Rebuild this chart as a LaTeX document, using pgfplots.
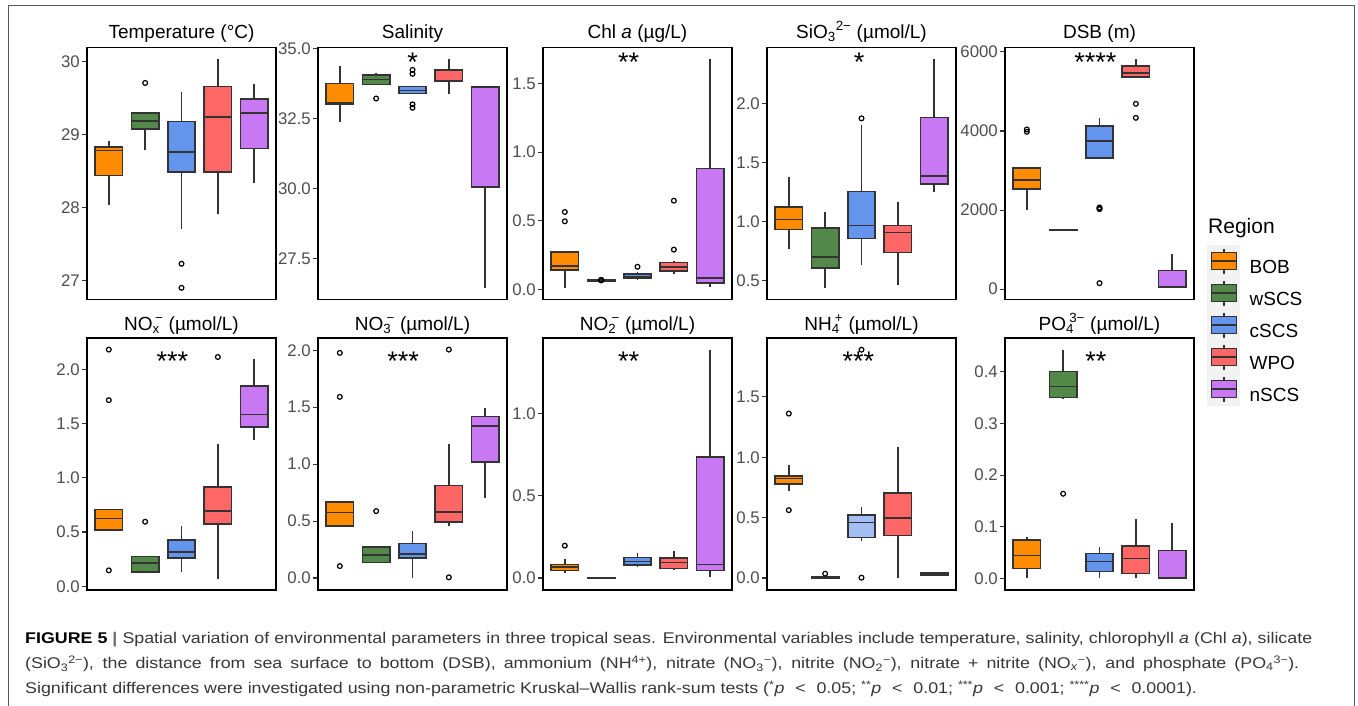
\documentclass[border=0pt]{standalone}
\usepackage{fontspec}
\setmainfont{Liberation Sans}
\newfontfamily\capfont{Liberation Sans}[FakeStretch=1.15]
\usepackage{pgfplots}
\pgfplotsset{compat=1.18}
\usepgfplotslibrary{statistics}
\definecolor{cBOB}{RGB}{255,140,0}
\definecolor{cwSCS}{RGB}{83,137,72}
\definecolor{ccSCS}{RGB}{100,149,237}
\definecolor{cWPO}{RGB}{255,102,102}
\definecolor{cnSCS}{RGB}{200,120,242}
\definecolor{clSCS}{RGB}{162,190,242}
\definecolor{edge}{RGB}{51,51,51}
\definecolor{ticklab}{RGB}{77,77,77}
\definecolor{capcol}{RGB}{55,55,55}
\definecolor{capbar}{RGB}{110,110,110}
\definecolor{lgbg}{RGB}{242,242,242}
\definecolor{framecol}{RGB}{90,90,90}

\newcommand{\bx}[7]{\addplot[draw=edge, line width=1.5bp, fill=#1,
  boxplot prepared={draw direction=y, draw position=#2, lower whisker=#3, lower quartile=#4,
  median=#5, upper quartile=#6, upper whisker=#7, box extend=0.75, whisker extend=0}]
  coordinates {};}
\newcommand{\outl}[1]{\addplot[only marks, mark=o, mark size=2.4bp, mark options={line width=1.2bp, draw=black}] coordinates {#1};}
\newcommand{\stars}[3]{\node[anchor=base, inner sep=0pt, font=\fontsize{27bp}{27bp}\selectfont] at ([yshift=#2]rel axis cs:#1,1) {#3};}
\newcommand{\lgkey}[1]{%
  \fill[lgbg] (0bp,-9bp) rectangle (32bp,22.6bp);
  \draw[edge, line width=1.4bp] (16.5bp,-5.7bp) -- (16.5bp,19.3bp);
  \draw[edge, line width=1.4bp, fill=#1] (4bp,-1.7bp) rectangle (29bp,15.3bp);
  \draw[edge, line width=1.4bp] (4bp,6.8bp) -- (29bp,6.8bp);}
\newcommand{\lt}{\hspace{0.7em}<\hspace{0.7em}}

\pgfplotsset{
  panel/.style={
    scale only axis, width=189bp, height=252bp,
    xmin=0.4, xmax=5.6, xtick=\empty,
    axis line style={line width=1.4bp, black},
    tick align=outside, major tick length=5.5bp, ytick pos=left,
    ytick style={line width=1.1bp, edge},
    yticklabel style={font=\fontsize{16.8bp}{18bp}\selectfont, text=ticklab, inner sep=1.5bp},
    /pgf/number format/assume math mode=true,
    clip=false,
  },
  rowone/.style={every axis title/.style={font=\fontsize{19bp}{22bp}\selectfont, at={(0.5,1)}, anchor=base, yshift=9bp}},
  rowtwo/.style={every axis title/.style={font=\fontsize{19bp}{22bp}\selectfont, at={(0.5,1)}, anchor=base, yshift=7.5bp}},
  dec1/.style={yticklabel style={/pgf/number format/.cd, fixed, fixed zerofill, precision=1}},
}

\begin{document}
\begin{tikzpicture}
\useasboundingbox (0,0) rectangle (1358bp,706bp);
\draw[framecol, line width=1bp] (8bp,-20bp) -- (8bp,700bp) -- (1354bp,700bp) -- (1354bp,-20bp);

% ---------- Row 1 ----------
\begin{axis}[panel, rowone, at={(87bp,406.5bp)}, anchor=south west,
  ymin=26.74, ymax=30.196, ytick={27,28,29,30}, title={Temperature (°C)}]
\bx{cBOB}{1}{28.04}{28.44}{28.78}{28.83}{28.92}
\bx{cwSCS}{2}{28.79}{29.08}{29.19}{29.30}{29.30}
\bx{ccSCS}{3}{27.70}{28.49}{28.76}{29.18}{29.59}
\bx{cWPO}{4}{27.91}{28.49}{29.24}{29.66}{30.04}
\bx{cnSCS}{5}{28.34}{28.81}{29.30}{29.49}{29.69}
\outl{(2,29.71)}
\outl{(3,27.23) (3,26.90)}
\end{axis}

\begin{axis}[panel, rowone, dec1, at={(318bp,406.5bp)}, anchor=south west,
  ymin=26.05, ymax=35.04, ytick={27.5,30,32.5,35}, title={Salinity}]
\bx{cBOB}{1}{32.37}{33.00}{33.06}{33.76}{34.37}
\bx{cwSCS}{2}{33.70}{33.72}{33.89}{34.06}{34.14}
\bx{ccSCS}{3}{33.39}{33.39}{33.51}{33.65}{33.65}
\bx{cWPO}{4}{33.38}{33.82}{33.84}{34.23}{34.63}
\bx{cnSCS}{5}{26.47}{30.06}{33.63}{33.65}{33.65}
\outl{(2,33.22)}
\outl{(3,34.24) (3,34.10) (3,33.01) (3,32.89)}
\stars{0.5}{-24.4bp}{*}
\end{axis}

\begin{axis}[panel, rowone, dec1, at={(543bp,406.5bp)}, anchor=south west,
  ymin=-0.073, ymax=1.761, ytick={0,0.5,1,1.5}, title={Chl \textit{a} (µg/L)}]
\bx{cBOB}{1}{0.012}{0.143}{0.169}{0.273}{0.273}
\bx{cwSCS}{2}{0.060}{0.063}{0.068}{0.074}{0.078}
\bx{ccSCS}{3}{0.070}{0.080}{0.092}{0.111}{0.128}
\bx{cWPO}{4}{0.109}{0.133}{0.165}{0.196}{0.206}
\bx{cnSCS}{5}{0.017}{0.048}{0.082}{0.881}{1.679}
\outl{(1,0.564) (1,0.496)}
\outl{(2,0.066) (2,0.068) (2,0.070)}
\outl{(3,0.165)}
\outl{(4,0.29) (4,0.646)}
\stars{0.453}{-24.4bp}{**}
\end{axis}

\begin{axis}[panel, rowone, dec1, at={(767bp,406.5bp)}, anchor=south west,
  ymin=0.342, ymax=2.476, ytick={0.5,1,1.5,2}, title={SiO\textsubscript{3}\textsuperscript{2−} (µmol/L)}]
\bx{cBOB}{1}{0.767}{0.936}{1.021}{1.127}{1.378}
\bx{cwSCS}{2}{0.441}{0.610}{0.700}{0.947}{1.080}
\bx{ccSCS}{3}{0.632}{0.857}{0.970}{1.257}{1.820}
\bx{cWPO}{4}{0.463}{0.739}{0.911}{0.970}{1.167}
\bx{cnSCS}{5}{1.251}{1.319}{1.386}{1.882}{2.380}
\outl{(3,1.876)}
\stars{0.488}{-24.4bp}{*}
\end{axis}

\begin{axis}[panel, rowone, at={(1005bp,406.5bp)}, anchor=south west,
  ymin=-261, ymax=6110, ytick={0,2000,4000,6000},
  yticklabel style={/pgf/number format/1000 sep={}}, title={DSB (m)}]
\bx{cBOB}{1}{1989}{2528}{2756}{3059}{3059}
\bx{cwSCS}{2}{1490}{1491}{1492}{1493}{1494}
\bx{ccSCS}{3}{3287}{3321}{3750}{4121}{4340}
\bx{cWPO}{4}{5360}{5360}{5461}{5638}{5824}
\bx{cnSCS}{5}{17}{51}{67}{472}{877}
\outl{(1,4037) (1,3978)}
\outl{(3,2065) (3,2045) (3,2023) (3,152)}
\outl{(4,4686) (4,4332)}
\stars{0.478}{-24.4bp}{****}
\end{axis}

% ---------- Row 2 ----------
\begin{axis}[panel, rowtwo, dec1, at={(87bp,116bp)}, anchor=south west,
  ymin=-0.034, ymax=2.288, ytick={0,0.5,1,1.5,2}, title={NO\textsubscript{x}\kern-0.25em\textsuperscript{−} (µmol/L)}]
\bx{cBOB}{1}{0.518}{0.518}{0.623}{0.709}{0.709}
\bx{cwSCS}{2}{0.132}{0.132}{0.215}{0.273}{0.273}
\bx{ccSCS}{3}{0.135}{0.261}{0.316}{0.429}{0.555}
\bx{cWPO}{4}{0.071}{0.574}{0.696}{0.914}{1.307}
\bx{cnSCS}{5}{1.347}{1.466}{1.583}{1.844}{2.098}
\outl{(1,2.181) (1,1.715) (1,0.147)}
\outl{(2,0.595)}
\outl{(4,2.113)}
\stars{0.452}{-32.3bp}{***}
\end{axis}

\begin{axis}[panel, rowtwo, dec1, at={(318bp,116bp)}, anchor=south west,
  ymin=-0.105, ymax=2.108, ytick={0,0.5,1,1.5,2}, title={NO\textsubscript{3}\kern-0.25em\textsuperscript{−} (µmol/L)}]
\bx{cBOB}{1}{0.459}{0.459}{0.576}{0.667}{0.667}
\bx{cwSCS}{2}{0.137}{0.137}{0.202}{0.272}{0.272}
\bx{ccSCS}{3}{0.0}{0.178}{0.211}{0.304}{0.415}
\bx{cWPO}{4}{0.459}{0.491}{0.582}{0.813}{1.181}
\bx{cnSCS}{5}{0.705}{1.020}{1.336}{1.418}{1.494}
\outl{(1,1.977) (1,1.591) (1,0.105)}
\outl{(2,0.588)}
\outl{(4,2.006) (4,0.006)}
\stars{0.45}{-32.3bp}{***}
\end{axis}

\begin{axis}[panel, rowtwo, dec1, at={(543bp,116bp)}, anchor=south west,
  ymin=-0.073, ymax=1.462, ytick={0,0.5,1}, title={NO\textsubscript{2}\kern-0.25em\textsuperscript{−} (µmol/L)}]
\bx{cBOB}{1}{0.028}{0.045}{0.067}{0.083}{0.116}
\bx{cwSCS}{2}{0.0}{0.001}{0.002}{0.003}{0.008}
\bx{ccSCS}{3}{0.065}{0.079}{0.101}{0.124}{0.150}
\bx{cWPO}{4}{0.049}{0.057}{0.093}{0.122}{0.166}
\bx{cnSCS}{5}{0.004}{0.045}{0.083}{0.738}{1.391}
\outl{(1,0.197)}
\stars{0.453}{-32.3bp}{**}
\end{axis}

\begin{axis}[panel, rowtwo, dec1, at={(767bp,116bp)}, anchor=south west,
  ymin=-0.099, ymax=1.988, ytick={0,0.5,1,1.5}, title={NH\textsubscript{4}\kern-0.25em\textsuperscript{+} (µmol/L)}]
\bx{cBOB}{1}{0.720}{0.778}{0.824}{0.846}{0.937}
\bx{cwSCS}{2}{0.0}{0.001}{0.006}{0.012}{0.014}
\bx{clSCS}{3}{0.309}{0.336}{0.458}{0.521}{0.590}
\bx{cWPO}{4}{0.0}{0.353}{0.496}{0.706}{1.086}
\bx{cnSCS}{5}{0.022}{0.023}{0.030}{0.041}{0.047}
\outl{(1,1.362) (1,0.562)}
\outl{(2,0.036)}
\outl{(3,0.003)}
\stars{0.484}{-32.3bp}{***}
\outl{(3,1.891)}
\end{axis}

\begin{axis}[panel, rowtwo, dec1, at={(1005bp,116bp)}, anchor=south west,
  ymin=-0.022, ymax=0.465, ytick={0,0.1,0.2,0.3,0.4}, title={PO\textsubscript{4}\kern-0.25em\textsuperscript{3−} (µmol/L)}]
\bx{cBOB}{1}{0.001}{0.020}{0.045}{0.0746}{0.080}
\bx{cwSCS}{2}{0.349}{0.350}{0.371}{0.400}{0.442}
\bx{ccSCS}{3}{0.001}{0.014}{0.033}{0.049}{0.061}
\bx{cWPO}{4}{0.001}{0.010}{0.039}{0.063}{0.116}
\bx{cnSCS}{5}{0.0}{0.0005}{0.001}{0.054}{0.107}
\outl{(2,0.164)}
\stars{0.481}{-32.3bp}{**}
\end{axis}

% ---------- Legend ----------
\node[anchor=base west, inner sep=0pt, font=\fontsize{21bp}{22bp}\selectfont] at (1208bp,472.7bp) {Region};
\begin{axis}[at={(1207bp,302bp)}, anchor=south west, scale only axis, width=32bp, height=159bp,
  hide axis, xmin=0, xmax=1, ymin=0, ymax=1,
  legend cell align=left,
  legend style={at={(0,1)}, anchor=north west, draw=none, fill=none, inner sep=0pt,
    row sep=0pt, column sep=10bp, font=\fontsize{19bp}{20bp}\selectfont,
    nodes={inner sep=0pt, outer sep=0pt}}]
\addlegendimage{legend image code/.code={\lgkey{cBOB}}}
\addlegendentry{BOB}
\addlegendimage{legend image code/.code={\lgkey{cwSCS}}}
\addlegendentry{wSCS}
\addlegendimage{legend image code/.code={\lgkey{ccSCS}}}
\addlegendentry{cSCS}
\addlegendimage{legend image code/.code={\lgkey{cWPO}}}
\addlegendentry{WPO}
\addlegendimage{legend image code/.code={\lgkey{cnSCS}}}
\addlegendentry{nSCS}
\end{axis}

% ---------- Caption ----------
\begin{scope}[every node/.style={anchor=base west, inner sep=0pt, font=\capfont\fontsize{15.5bp}{18bp}\selectfont, text=capcol}]
\node at (25bp,62.6bp) {\makebox[1287bp][s]{\textbf{\textcolor{black}{FIGURE 5}} \textbf{\textcolor{capbar}{|}} Spatial variation of environmental parameters in three tropical seas. Environmental variables include temperature, salinity, chlorophyll \textit{a} (Chl \textit{a}), silicate}};
\node at (25bp,37.6bp) {\makebox[1274bp][s]{(SiO\textsubscript{3}\textsuperscript{2−}), the distance from sea surface to bottom (DSB), ammonium (NH\textsuperscript{4+}), nitrate (NO\textsubscript{3}\textsuperscript{−}), nitrite (NO\textsubscript{2}\textsuperscript{−}), nitrate + nitrite (NO\textsubscript{\textit{x}}\textsuperscript{−}), and phosphate (PO\textsubscript{4}\textsuperscript{3−}).}};
\node at (25bp,12.6bp) {Significant differences were investigated using non-parametric Kruskal–Wallis rank-sum tests (\textsuperscript{*}\textit{p}\lt 0.05; \textsuperscript{**}\textit{p}\lt 0.01; \textsuperscript{***}\textit{p}\lt 0.001; \textsuperscript{****}\textit{p}\lt 0.0001).};
\end{scope}
\end{tikzpicture}
\end{document}
